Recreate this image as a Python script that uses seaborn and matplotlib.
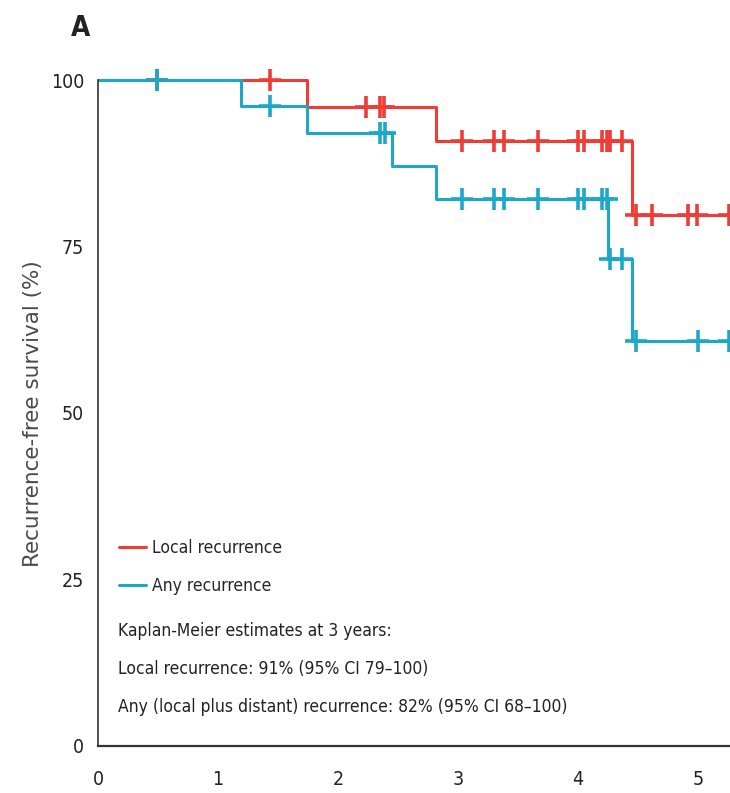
import numpy as np
import pandas as pd
import matplotlib
matplotlib.use("Agg")
import matplotlib.pyplot as plt
import seaborn as sns

# Kaplan-Meier step curves (years, % recurrence-free)
local_times = [0, 1.74, 2.82, 4.45, 5.3]
local_surv = [100, 95.9, 90.8, 79.7, 79.7]
any_times = [0, 1.19, 1.74, 2.45, 2.82, 4.25, 4.45, 5.3]
any_surv = [100, 96.1, 92.0, 87.1, 82.1, 73.1, 60.8, 60.8]

# censored observations
local_censor = [0.49, 1.43, 2.23, 2.35, 2.38, 3.03, 3.30, 3.38, 3.67, 4.00, 4.05,
                4.20, 4.24, 4.27, 4.37, 4.48, 4.62, 4.92, 4.99, 5.26]
any_censor = [0.49, 1.43, 2.35, 2.39, 3.03, 3.30, 3.38, 3.67, 4.00, 4.05,
              4.20, 4.24, 4.27, 4.37, 4.48, 5.00, 5.26]

x_ticks = [0, 1, 2, 3, 4, 5]
y_ticks = [0, 25, 50, 75, 100]

RED = "#EE3D36"
BLUE = "#1DA7C9"


def surv_at(times, surv, t):
    idx = np.searchsorted(times, t, side="right") - 1
    return np.asarray(surv)[idx]


sns.set_style("white")
plt.rcParams["font.family"] = ["DejaVu Sans"]
plt.rcParams["font.stretch"] = "condensed"

fig = plt.figure(figsize=(7.3, 7.93), dpi=100)
ax = fig.add_axes([0.1342, 0.0593, 0.8658, 0.8566])

curves = pd.concat([
    pd.DataFrame({"t": local_times, "s": local_surv, "grp": "Local recurrence"}),
    pd.DataFrame({"t": any_times, "s": any_surv, "grp": "Any recurrence"}),
])
cens = pd.concat([
    pd.DataFrame({"t": local_censor,
                  "s": surv_at(local_times, local_surv, local_censor),
                  "grp": "Local recurrence"}),
    pd.DataFrame({"t": any_censor,
                  "s": surv_at(any_times, any_surv, any_censor),
                  "grp": "Any recurrence"}),
])
palette = {"Local recurrence": RED, "Any recurrence": BLUE}

for grp in ["Local recurrence", "Any recurrence"]:
    sns.lineplot(data=curves[curves.grp == grp], x="t", y="s", color=palette[grp],
                 drawstyle="steps-post", linewidth=2.2, label=grp, ax=ax,
                 estimator=None, sort=False)
    sns.scatterplot(data=cens[cens.grp == grp], x="t", y="s", color=palette[grp],
                    marker="+", s=260, linewidth=2.6, ax=ax, legend=False, zorder=3)

ax.set_xlim(0, 5.267)
ax.set_ylim(0, 102)
ax.set_xticks(x_ticks)
ax.set_yticks(y_ticks)
ax.tick_params(axis="both", direction="out", width=1.2, color="#333333",
               labelsize=14, labelcolor="#222222")
ax.tick_params(axis="y", length=8, pad=2)
ax.tick_params(axis="x", length=13, pad=4)
for side in ["top", "right"]:
    ax.spines[side].set_visible(False)
ax.spines["left"].set_bounds(0, 100)
ax.spines["left"].set_color("#333333")
ax.spines["bottom"].set_color("#333333")
ax.spines["left"].set_linewidth(1.2)
ax.spines["bottom"].set_linewidth(1.6)

ax.set_xlabel("")
ax.set_ylabel("Recurrence-free survival (%)", fontsize=15.5, fontstretch="normal",
              color="#4a4a4a")
ax.yaxis.set_label_coords(-0.087, 0.49)

leg = ax.legend(loc="upper left", bbox_to_anchor=(0.008, 0.327), frameon=False,
                fontsize=12.5, handlelength=1.55, handletextpad=0.35,
                labelspacing=1.15)
for line in leg.get_lines():
    line.set_linewidth(2.2)

notes = ["Kaplan-Meier estimates at 3 years:",
         "Local recurrence: 91% (95% CI 79\u2013100)",
         "Any (local plus distant) recurrence: 82% (95% CI 68\u2013100)"]
for i, note in enumerate(notes):
    ax.text(0.032, 0.169 - i * 0.0557, note, transform=ax.transAxes, fontsize=12.5,
            color="#222222", va="center", ha="left")

fig.text(0.11, 0.965, "A", fontsize=20, fontweight="bold", color="#222222",
         ha="center", va="center")

fig.savefig("out.png", dpi=100)
